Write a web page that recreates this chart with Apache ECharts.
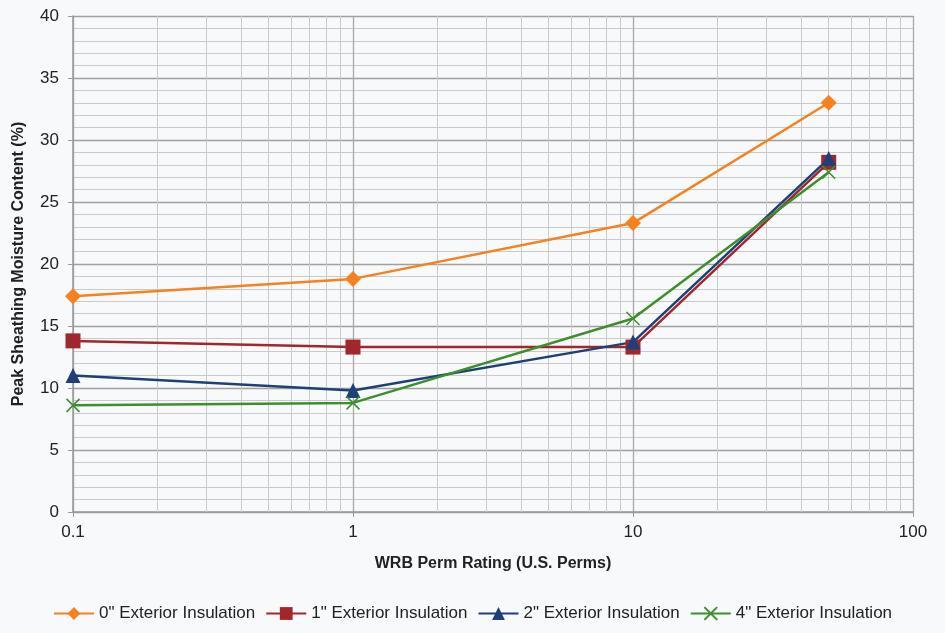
<!DOCTYPE html>
<html>
<head>
<meta charset="utf-8">
<script src="https://cdn.jsdelivr.net/npm/echarts@6/dist/echarts.min.js"></script>
<style>html,body{margin:0;padding:0;background:#f8f9fa}#c{width:945px;height:633px}</style>
</head>
<body>
<div id="c"></div>
<script>
var permRatings = [0.1, 1, 10, 50];
var seriesNames = ['0" Exterior Insulation', '1" Exterior Insulation', '2" Exterior Insulation', '4" Exterior Insulation'];
var ins0 = [17.4, 18.8, 23.3, 33.0];
var ins1 = [13.8, 13.3, 13.3, 28.2];
var ins2 = [11.0, 9.8, 13.7, 28.5];
var ins4 = [8.6, 8.8, 15.6, 27.4];
var minorXGrid = [0.2,0.3,0.4,0.5,0.6,0.7,0.8,0.9,2,3,4,5,6,7,8,9,20,30,40,50,60,70,80,90];

function pairs(vals){ return permRatings.map(function(x,i){ return [x, vals[i]]; }); }

var colors = ['#f5821f', '#a0282d', '#1f3f78', '#3e8e2e'];
var chart = echarts.init(document.getElementById('c'));
var xPath = 'path://M0,0L10,10M10,0L0,10';

function mk(name, vals, color, symbol, size, extra){
  var s = {
    name: name, type: 'line', data: pairs(vals), z: 5,
    symbol: symbol, symbolSize: size,
    lineStyle: {color: color, width: 2.5},
    itemStyle: {color: color},
    emphasis: {disabled: true}
  };
  if (extra) Object.assign(s, extra);
  return s;
}

chart.setOption({
  backgroundColor: '#f8f9fa',
  animation: false,
  textStyle: {fontFamily: 'Liberation Sans'},
  grid: {left: 73, right: 32, top: 16, bottom: 121, containLabel: false},
  legend: {
    bottom: 6, left: 'center', itemWidth: 40, itemHeight: 16, itemGap: 10,
    textStyle: {fontFamily: 'Liberation Sans', fontSize: 17, color: '#222'},
    data: seriesNames
  },
  xAxis: {
    type: 'log', logBase: 10, min: 0.1, max: 100,
    name: 'WRB Perm Rating (U.S. Perms)', nameLocation: 'middle', nameGap: 44,
    nameTextStyle: {fontSize: 16, fontWeight: 'bold', color: '#222'},
    axisLine: {lineStyle: {color: '#999', width: 1.5}},
    axisTick: {show: true, length: 5, lineStyle: {color: '#999'}},
    axisLabel: {fontSize: 17, color: '#222', margin: 12, formatter: function(v){ return String(v); }},
    splitLine: {show: true, lineStyle: {color: '#a8a8a8', width: 1.3}},
    minorTick: {show: false}, minorSplitLine: {show: false}
  },
  yAxis: {
    type: 'value', min: 0, max: 40, interval: 5,
    name: 'Peak Sheathing Moisture Content (%)', nameLocation: 'middle', nameGap: 46,
    nameTextStyle: {fontSize: 16, fontWeight: 'bold', color: '#222'},
    axisLine: {show: true, lineStyle: {color: '#999', width: 1.5}},
    axisTick: {show: true, length: 5, lineStyle: {color: '#999'}},
    axisLabel: {fontSize: 17, color: '#222', margin: 14},
    splitLine: {show: true, lineStyle: {color: '#a0a0a0', width: 1.3}},
    minorTick: {show: false, splitNumber: 5},
    minorSplitLine: {show: true, lineStyle: {color: '#cacaca', width: 1}}
  },
  series: [
    {
      type: 'line', data: [], z: 1, silent: true,
      markLine: {
        silent: true, symbol: 'none', label: {show: false}, animation: false,
        lineStyle: {color: '#cacaca', width: 1, type: 'solid'},
        emphasis: {disabled: true},
        data: minorXGrid.map(function(v){ return {xAxis: v}; })
      }
    },
    mk(seriesNames[0], ins0, colors[0], 'diamond', 16),
    mk(seriesNames[1], ins1, colors[1], 'rect', 15),
    mk(seriesNames[2], ins2, colors[2], 'triangle', 15),
    mk(seriesNames[3], ins4, colors[3], xPath, 13, {itemStyle: {color: colors[3], borderColor: colors[3], borderWidth: 1.5}})
  ]
});
</script>
</body>
</html>
